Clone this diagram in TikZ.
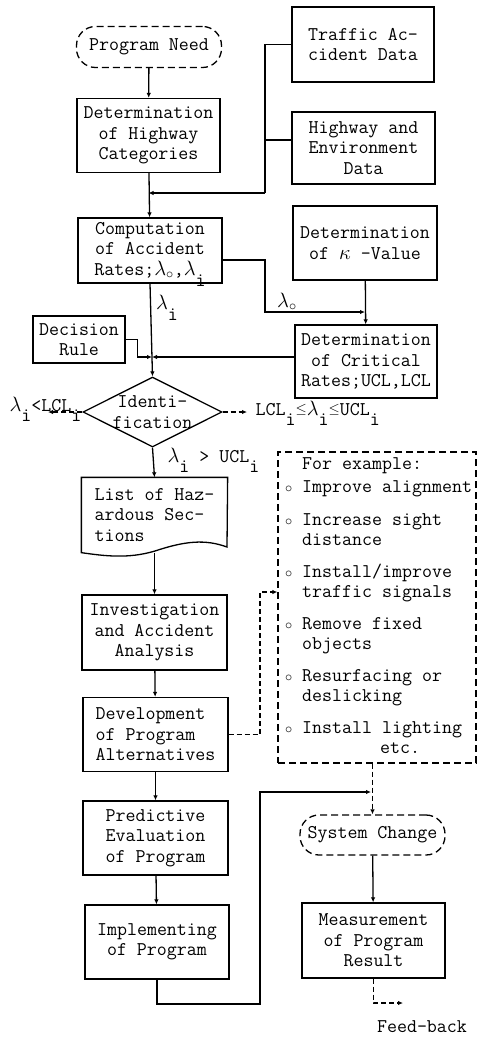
\documentclass[tikz,border=0pt]{standalone}
\usepackage{fontspec}
\usetikzlibrary{positioning,arrows.meta,shapes.geometric,calc}

\newcommand{\lo}[1]{\raisebox{-0.55em}[0pt][0pt]{#1}}
\newcommand{\lam}{$\lambda$}
\newcommand{\lamo}{$\lambda_{\circ}$}
\newcommand{\leqs}{\raisebox{0.1em}{$\scriptstyle\leq$}}
\newcommand{\bul}{$\scriptstyle\circ$}

\begin{document}
\begin{tikzpicture}[
    x=1pt, y=-1pt,
    font=\ttfamily\fontsize{19.4}{20.5}\selectfont,
    line width=1.3pt,
    box/.style={draw, align=center, minimum width=143pt, minimum height=74pt, inner sep=2pt},
    term/.style={draw, dash pattern=on 7pt off 4pt, rounded corners=19pt, minimum width=145pt, minimum height=41pt, inner sep=2pt},
    decision/.style={draw, diamond, minimum width=139pt, minimum height=70pt, inner sep=0pt},
    exbox/.style={draw, dash pattern=on 7pt off 4pt, minimum width=198pt, minimum height=311pt, inner xsep=7pt, inner ysep=0pt},
    flow/.style={-{Latex[length=5pt,width=4.5pt]}},
    dflow/.style={flow, dash pattern=on 5pt off 3pt},
    lbl/.style={inner sep=1pt}
]
\useasboundingbox (0,0) rectangle (478,1037);

% Main column
\node[term] (need) at (149,47) {Program Need};
\node[box] (cat) at (148.5,135.5) {Determination\\of Highway\\Categories};
\node[box, minimum width=144pt, minimum height=65pt] (comp) at (150,250.5) {Computation\\of Accident\\Rates;\lamo,\lam\lo{i}};
\node[box, minimum width=92pt, minimum height=47pt] (rule) at (79,339.5) {Decision\\Rule};
\node[decision] (ident) at (152.5,412) {};
\node[lbl, align=center] (identtxt) at (ident) {Identi-\\fication};
\node[align=left, minimum width=145pt, minimum height=74pt, inner sep=0pt] (list) at (154.5,515) {List of Haz-\\ardous Sec-\\tions};
\node[box, minimum width=145pt, minimum height=75pt] (inv) at (154.5,632.5) {Investigation\\and Accident\\Analysis};
\node[box, align=left, minimum width=145pt] (dev) at (155.5,734.5) {Development\\of Program\\Alternatives};
\node[box, minimum width=145pt] (pred) at (155.5,838) {Predictive\\Evaluation\\of Program};
\node[box, minimum width=144pt] (impl) at (157,942) {Implementing\\of Program};

% Right column
\node[box, minimum width=142pt, minimum height=75pt] (traffic) at (363,44.5) {Traffic Ac-\\cident Data};
\node[box, minimum height=72pt] (env) at (363.5,148) {Highway and\\Environment\\Data};
\node[box, minimum width=144pt] (kappa) at (365,243) {Determination\\of $\kappa$ -Value};
\node[box, minimum width=142pt, minimum height=73pt] (crit) at (366,361.5) {Determination\\of Critical\\Rates;UCL,LCL};
\node[exbox] (examples) at (377,607.5) {\makebox[184pt][l]{\begin{tabular}{@{}l@{ }l@{}}
 & For example:\\[2.5pt]
\bul & Improve alignment\\[12pt]
\bul & Increase sight\\ & distance\\[11pt]
\bul & Install/improve\\ & traffic signals\\[11pt]
\bul & Remove fixed\\ & objects\\[11pt]
\bul & Resurfacing or\\ & deslicking\\[11pt]
\bul & Install lighting\\ & \hspace{78pt}etc.
\end{tabular}}};
\node[term, minimum height=40pt] (change) at (372.5,835) {System Change};
\node[box, minimum height=75pt] (meas) at (373.5,940.5) {Measurement\\of Program\\Result};
\node[lbl] (feedback) at (422,1027) {Feed-back};

% Document shape of the hazardous list
\draw (list.north west) -- (list.north east) -- (227,547) .. controls (205,539) and (185,541) .. (155,551) .. controls (128,559) and (105,556) .. (list.south west) -- cycle;

% Turning points
\coordinate (datajoin) at (265,193);
\coordinate (lamoturn) at (265,312);
\coordinate (rulejoin) at (152,357);
\coordinate (lowend) at (48,412);
\coordinate (midend) at (247,412);
\coordinate (devturn) at (260,592);
\coordinate (loopturn) at (260,1004);
\coordinate (changein) at (371,792);
\coordinate (fbend) at (403,1003);

% Connectors
\draw[flow] (need) -- (cat);
\draw[flow] (cat) -- (comp);
\draw (traffic.west) -| (datajoin);
\draw (env.west |- 0,140) -- (datajoin |- 0,140);
\draw[flow] (datajoin) -- (datajoin -| cat.south);
\draw[flow] ([yshift=-9.5pt]comp.east) -| (lamoturn) -- (lamoturn -| kappa.south) node[lbl, pos=0.22, above] (lamolab) {\lamo};
\draw[flow] (kappa) -- (crit);
\draw[flow] (comp.south) -- (ident.north) node[lbl, pos=0.2, right, xshift=4pt] (lamilab) {\lam\lo{i}};
\draw[flow] ([yshift=4.5pt]crit.west) -- (rulejoin);
\draw[flow] (rule.east) -- ++(12,0) |- (rulejoin);
\draw[dflow] (ident.west) -- (lowend);
\node[lbl, anchor=west] (lowlab) at (8,404) {\lam\lo{i}<LCL\lo{i}};
\draw[dflow] (ident.east) -- (midend);
\node[lbl, anchor=west] (midlab) at (254,408) {LCL\lo{i}\leqs\lam\lo{i}\leqs UCL\lo{i}};
\draw[flow] (ident.south) -- (list.north) node[lbl, pos=0.25, right, xshift=13pt] (highlab) {\lam\lo{i} > UCL\lo{i}};
\draw[flow] (list.south) -- (inv.north);
\draw[flow] (inv) -- (dev);
\draw[flow] (dev) -- (pred);
\draw[flow] (pred) -- (impl);
\draw[dflow] (dev.east) -| (devturn) -- (devturn -| examples.west);
\draw[flow] (impl.south) |- (loopturn) |- (changein);
\draw[dflow] (change.north |- examples.south) -- (change.north);
\draw[flow] (change) -- (meas);
\draw[dflow] (meas.south) |- (fbend);

\end{tikzpicture}
\end{document}
